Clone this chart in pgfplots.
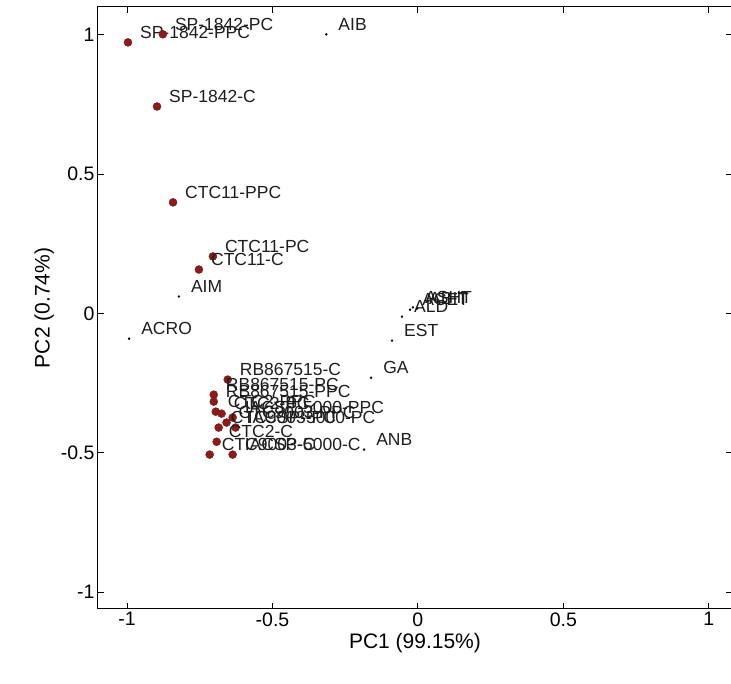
\documentclass[border=0pt]{standalone}
\usepackage{fontspec}
\setmainfont{Liberation Sans}
\usepackage{pgfplots}
\pgfplotsset{compat=1.18}
\usepackage{pgfplotstable}
\definecolor{dotred}{RGB}{140,28,28}
\definecolor{lbl}{RGB}{30,30,30}

\pgfplotstableread{
x y label
-0.997 0.973 SP-1842-PPC
-0.877 1.002 SP-1842-PC
-0.897 0.743 SP-1842-C
-0.842 0.399 CTC11-PPC
-0.705 0.205 CTC11-PC
-0.753 0.158 CTC11-C
-0.654 -0.237 RB867515-C
-0.702 -0.291 RB867515-PC
-0.702 -0.316 RB867515-PPC
-0.695 -0.352 CTC2-PPC
-0.675 -0.359 CTC2-PC
-0.637 -0.373 IACSP-5000-PPC
-0.658 -0.391 CTC9003-PPC
-0.627 -0.409 IACSP-5000-PC
-0.685 -0.409 CTC9003-PC
-0.692 -0.460 CTC2-C
-0.716 -0.506 CTC9003-C
-0.637 -0.506 IACSP-5000-C
}\reddata

\pgfplotstableread{
x y label
-0.315 1.002 AIB
-0.822 0.061 AIM
-0.993 -0.090 ACRO
-0.161 -0.230 GA
-0.185 -0.488 ANB
-0.089 -0.097 EST
-0.055 -0.011 ALD
-0.027 0.014 ACET
-0.017 0.022 ASHT
-0.003 0.018 ABIT
}\blackdata

\begin{document}
\begin{tikzpicture}
\begin{axis}[
  scale only axis,
  width=634pt, height=602pt,
  xmin=-1.1, xmax=1.08, ymin=-1.06, ymax=1.1,
  xtick={-1,-0.5,0,0.5,1},
  ytick={-1,-0.5,0,0.5,1},
  tick pos=both,
  tick align=inside,
  major tick length=6pt,
  /pgf/number format/assume math mode=true,
  tick label style={font=\fontsize{19.5}{22}\selectfont},
  label style={font=\fontsize{21}{24}\selectfont},
  xlabel={PC1 (99.15\%)},
  ylabel={PC2 (0.74\%)},
  axis line style={black, line width=1pt},
  every tick/.style={black, line width=1pt},
  clip=false,
]
\addplot[only marks, mark=*, mark size=1pt, black,
  point meta=explicit symbolic,
  nodes near coords,
  nodes near coords style={anchor=west, xshift=12pt, yshift=10pt, inner sep=0pt,
    text=lbl, font=\fontsize{17.5}{20}\selectfont}]
  table[x=x, y=y, meta=label] {\blackdata};
\addplot[only marks, mark=*, mark size=4pt,
  mark options={fill=dotred, draw=dotred!80!black},
  point meta=explicit symbolic,
  nodes near coords,
  nodes near coords style={anchor=west, xshift=12pt, yshift=10pt, inner sep=0pt,
    text=lbl, font=\fontsize{17.5}{20}\selectfont}]
  table[x=x, y=y, meta=label] {\reddata};
\coordinate (SW) at (rel axis cs:0,0);
\coordinate (NW) at (rel axis cs:0,1);
\end{axis}
\pgfresetboundingbox
\path[use as bounding box] ([xshift=-98pt,yshift=-75pt]SW) rectangle ([xshift=633pt,yshift=7pt]NW);
\end{tikzpicture}
\end{document}
